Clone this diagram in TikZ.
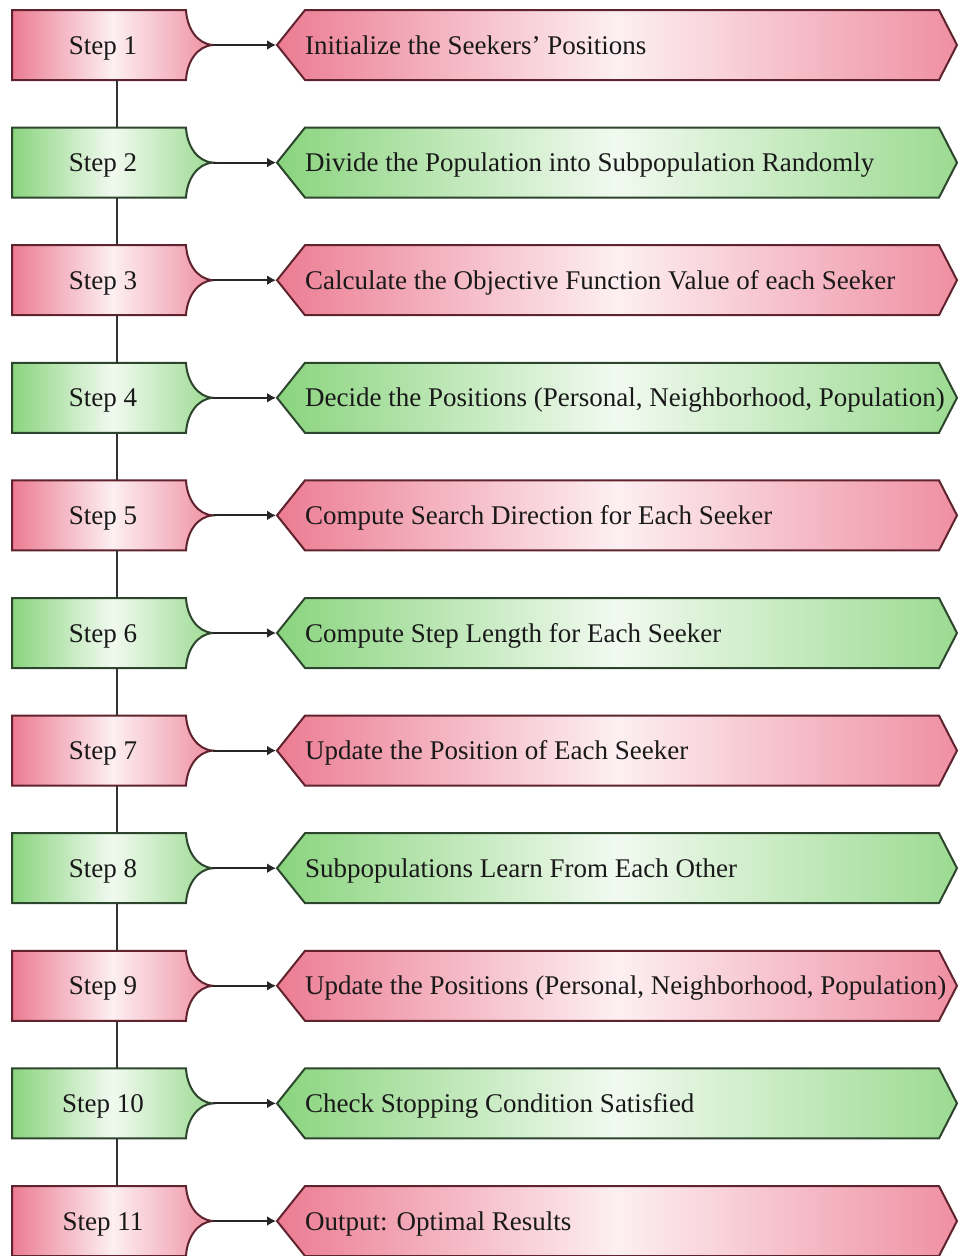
\documentclass[tikz,border=0pt]{standalone}
\usepackage{fontspec}
\setmainfont{Liberation Serif}
\usetikzlibrary{arrows.meta}

\definecolor{stepred}{RGB}{236,124,146}
\definecolor{stepredline}{RGB}{95,35,45}
\definecolor{stepgreen}{RGB}{138,212,126}
\definecolor{stepgreenline}{RGB}{45,68,45}

\begin{document}
\begin{tikzpicture}[
  x=1pt, y=1pt,
  font=\fontsize{27}{31}\selectfont,
  redbox/.style={draw=stepredline, line width=2pt, left color=stepred, right color=stepred!85, middle color=stepred!12},
  greenbox/.style={draw=stepgreenline, line width=2pt, left color=stepgreen, right color=stepgreen!85, middle color=stepgreen!12},
  label/.style={text=black!90, inner sep=0pt},
  link/.style={line width=2pt, black!80},
  feed/.style={line width=2pt, black!85, -{Latex[length=9pt, width=10pt]}}
]
\useasboundingbox (0,0) rectangle (959,-1256);

% Steps (box with cusp tab, arrow, hexagon with task)
\foreach \i/\txt/\col in {
  1/{Initialize the Seekers' Positions}/red,
  2/{Divide the Population into Subpopulation Randomly}/green,
  3/{Calculate the Objective Function Value of each Seeker}/red,
  4/{Decide the Positions (Personal, Neighborhood, Population)}/green,
  5/{Compute Search Direction for Each Seeker}/red,
  6/{Compute Step Length for Each Seeker}/green,
  7/{Update the Position of Each Seeker}/red,
  8/{Subpopulations Learn From Each Other}/green,
  9/{Update the Positions (Personal, Neighborhood, Population)}/red,
  10/{Check Stopping Condition Satisfied}/green,
  11/{Output: Optimal Results}/red} {
  \pgfmathsetmacro{\yc}{-45-(\i-1)*117.6}
  \draw[\col box] (12,\yc+35) -- (186,\yc+35)
    .. controls (187,\yc+17) and (197,\yc+1) .. (213,\yc)
    .. controls (197,\yc-1) and (187,\yc-17) .. (186,\yc-35)
    -- (12,\yc-35) -- cycle;
  \draw[\col box] (277,\yc) -- (305,\yc+35) -- (939,\yc+35) -- (957,\yc)
    -- (939,\yc-35) -- (305,\yc-35) -- cycle;
  \coordinate (tip\i) at (213,\yc);
  \coordinate (in\i) at (276,\yc);
  \coordinate (top\i) at (117,\yc+35);
  \coordinate (bot\i) at (117,\yc-35);
  \node[label, anchor=base] (s\i) at (103,\yc-9) {Step \i};
  \node[label, anchor=base west] (t\i) at (305,\yc-9) {\txt};
  \draw[feed] (tip\i) -- (in\i);
}

% Vertical links between steps
\foreach \i [evaluate=\i as \j using int(\i+1)] in {1,...,10}
  \draw[link] (bot\i) -- (top\j);

\end{tikzpicture}
\end{document}
